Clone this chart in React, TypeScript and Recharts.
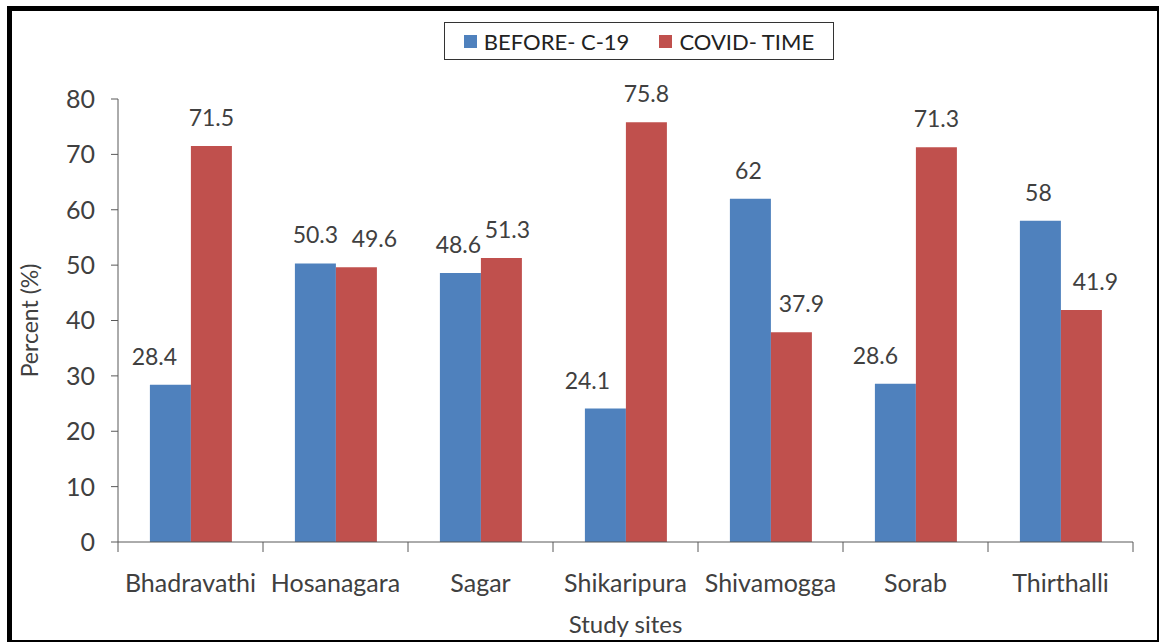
import React from 'react';
import { BarChart, Bar, XAxis, YAxis, Legend, LabelList, Label } from 'recharts';

const sites = ['Bhadravathi', 'Hosanagara', 'Sagar', 'Shikaripura', 'Shivamogga', 'Sorab', 'Thirthalli'];
const beforeC19 = [28.4, 50.3, 48.6, 24.1, 62, 28.6, 58];
const covidTime = [71.5, 49.6, 51.3, 75.8, 37.9, 71.3, 41.9];
const yTicks = [0, 10, 20, 30, 40, 50, 60, 70, 80];

// hand-nudged data labels, as in the source chart
const beforeLabelNudge = [-16, 0, -2, -18, -2, -20, -2];
const covidLabelNudge = [0, 18, 6, 0, 10, 0, 14];

const BLUE = '#4F81BD';
const RED = '#C0504D';
const FONT = 'Lato, "Noto Sans", sans-serif';
const TEXT = '#404040';
const AXIS = '#595959';

const data = sites.map((site, i) => ({ site, before: beforeC19[i], covid: covidTime[i] }));

const LegendBox = () => (
  <div
    style={{
      border: '1px solid #333',
      height: 38,
      boxSizing: 'border-box',
      display: 'flex',
      alignItems: 'center',
      justifyContent: 'center',
      gap: 30,
      fontFamily: FONT,
      fontSize: 22,
      color: '#222',
    }}
  >
    <span style={{ display: 'flex', alignItems: 'center' }}>
      <span style={{ width: 13, height: 13, background: BLUE, marginRight: 7 }} />
      BEFORE- C-19
    </span>
    <span style={{ display: 'flex', alignItems: 'center' }}>
      <span style={{ width: 13, height: 13, background: RED, marginRight: 7 }} />
      COVID- TIME
    </span>
  </div>
);

const SiteTick = (props: any) => {
  const { x, y, payload, index, visibleTicksCount } = props;
  const half = payload.offset || 0;
  const isLast = index === visibleTicksCount - 1;
  return (
    <g>
      <line x1={x - half} x2={x - half} y1={y} y2={y + 10} stroke={AXIS} />
      {isLast && <line x1={x + half} x2={x + half} y1={y} y2={y + 10} stroke={AXIS} />}
      <text x={x} y={y + 50} textAnchor="middle" fill={TEXT} fontFamily={FONT} fontSize={25}>
        {payload.value}
      </text>
    </g>
  );
};

const makeValueLabel = (nudge: number[]) => (props: any) => {
  const { x, y, width, value, index } = props;
  return (
    <text
      x={x + width / 2 + (nudge[index] || 0)}
      y={y - 20}
      textAnchor="middle"
      fill={TEXT}
      fontFamily={FONT}
      fontSize={23}
    >
      {value}
    </text>
  );
};

export default function App() {
  return (
    <div style={{ position: 'absolute', left: 0, top: 0, width: 1160, height: 643, background: '#fff' }}>
      <BarChart
        width={1160}
        height={643}
        data={data}
        margin={{ top: 61, right: 27, left: 0, bottom: 0 }}
        barGap={0}
        barCategoryGap="22%"
      >
        <XAxis
          dataKey="site"
          stroke={AXIS}
          tickLine={false}
          tickSize={0}
          tickMargin={0}
          height={101}
          tick={<SiteTick />}
          interval={0}
        >
          <Label
            value="Study sites"
            position="insideBottom"
            offset={10}
            style={{ fill: TEXT, fontFamily: FONT, fontSize: 24 }}
          />
        </XAxis>
        <YAxis
          width={118}
          domain={[0, 80]}
          ticks={yTicks}
          stroke={AXIS}
          tickSize={7}
          tickMargin={16}
          tick={{ fill: TEXT, fontFamily: FONT, fontSize: 25 }}
        >
          <Label
            value="Percent (%)"
            angle={-90}
            position="insideLeft"
            offset={30}
            style={{ fill: TEXT, fontFamily: FONT, fontSize: 23, textAnchor: 'middle' }}
          />
        </YAxis>
        <Legend
          verticalAlign="top"
          content={<LegendBox />}
          wrapperStyle={{ top: 22, left: 444, width: 390 }}
        />
        <Bar dataKey="before" fill={BLUE} isAnimationActive={false} name="BEFORE- C-19">
          <LabelList dataKey="before" content={makeValueLabel(beforeLabelNudge)} />
        </Bar>
        <Bar dataKey="covid" fill={RED} isAnimationActive={false} name="COVID- TIME">
          <LabelList dataKey="covid" content={makeValueLabel(covidLabelNudge)} />
        </Bar>
      </BarChart>
      <div
        style={{
          position: 'absolute',
          left: 7,
          top: 6,
          right: 1,
          bottom: 1,
          borderTop: '5px solid #000',
          borderLeft: '5px solid #000',
          borderRight: '2px solid #000',
          borderBottom: '2px solid #000',
          pointerEvents: 'none',
        }}
      />
    </div>
  );
}
